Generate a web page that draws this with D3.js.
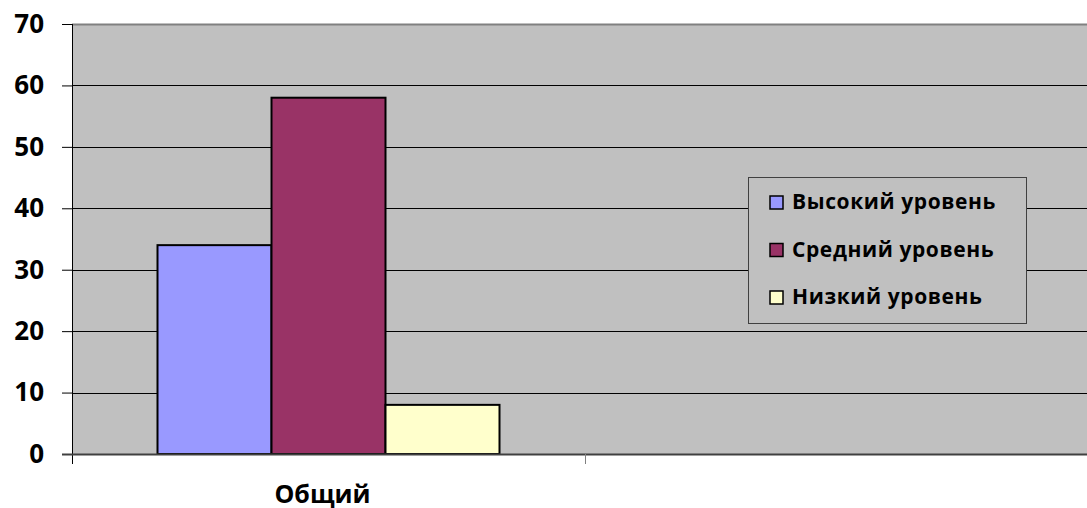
<!DOCTYPE html>
<html>
<head>
<meta charset="utf-8">
<script src="https://cdn.jsdelivr.net/npm/d3@7"></script>
<style>
  body { margin: 0; background: #fff; }
  svg { display: block; font-family: "Open Sans", "Noto Sans", sans-serif; }
</style>
</head>
<body>
<div id="plot"></div>
<script>
// chart data
const categories = ["Общий", ""];
const seriesNames = ["Высокий уровень", "Средний уровень", "Низкий уровень"];
const seriesValues = [[34, null], [58, null], [8, null]];
const seriesColors = ["#9999ff", "#993366", "#ffffcc"];
const yTicks = [0, 10, 20, 30, 40, 50, 60, 70];

const w = 1087;
const h = 508;
const margin = {top: 24, right: -11, bottom: 54, left: 72};
const innerWidth = w - margin.left - margin.right;
const innerHeight = h - margin.top - margin.bottom;

const svg = d3.select("div#plot")
    .append("svg")
    .attr("width", w)
    .attr("height", h);

const x0 = d3.scaleBand()
    .domain(categories)
    .range([0, innerWidth]);

// gap width 150% like excel
const barW = x0.bandwidth() / (seriesNames.length + 1.5);
const x1 = d3.scaleBand()
    .domain(seriesNames)
    .range([barW * 0.75, barW * 0.75 + barW * seriesNames.length]);

const y = d3.scaleLinear()
    .domain([0, 70])
    .range([innerHeight, 0]);

const g = svg.append("g")
    .attr("transform", `translate(${margin.left},${margin.top})`);

g.append("rect")
    .attr("width", innerWidth)
    .attr("height", innerHeight)
    .attr("fill", "#c0c0c0");

// gridlines
g.selectAll(".grid")
    .data(yTicks.filter(d => d > 0 && d < 70))
  .enter().append("line")
    .attr("x1", 0)
    .attr("x2", innerWidth)
    .attr("y1", d => Math.round(y(d)) + 0.5)
    .attr("y2", d => Math.round(y(d)) + 0.5)
    .attr("stroke", "#000")
    .attr("stroke-width", 1);

g.append("line")
    .attr("x1", 0).attr("x2", innerWidth)
    .attr("y1", 0.5).attr("y2", 0.5)
    .attr("stroke", "#808080").attr("stroke-width", 2);

// bars
const bars = [];
seriesNames.forEach((s, i) => {
  categories.forEach((c, j) => {
    if (seriesValues[i][j] != null) bars.push({s, c, v: seriesValues[i][j], color: seriesColors[i]});
  });
});

g.selectAll(".bar")
    .data(bars)
  .enter().append("rect")
    .attr("x", d => x0(d.c) + x1(d.s))
    .attr("y", d => y(d.v))
    .attr("width", x1.bandwidth())
    .attr("height", d => innerHeight - y(d.v))
    .attr("fill", d => d.color)
    .attr("stroke", "#000")
    .attr("stroke-width", 2);

// axes
const yAxis = d3.axisLeft(y)
    .tickValues(yTicks)
    .tickSize(10)
    .tickPadding(18)
    .tickFormat(d3.format("d"));

const ya = g.append("g").call(yAxis);
ya.select(".domain").remove();
ya.selectAll("line").attr("stroke", "#000");
ya.selectAll("text")
    .attr("font-size", 26)
    .attr("font-weight", "bold")
    .attr("fill", "#000")
    .attr("font-family", "'Open Sans', sans-serif");

g.append("line")
    .attr("x1", 0.5).attr("x2", 0.5)
    .attr("y1", 0).attr("y2", innerHeight + 10)
    .attr("stroke", "#000");

g.append("line")
    .attr("x1", -10).attr("x2", innerWidth)
    .attr("y1", innerHeight + 0.5).attr("y2", innerHeight + 0.5)
    .attr("stroke", "#404040").attr("stroke-width", 2);

g.selectAll(".xtick")
    .data(categories.slice(1))
  .enter().append("line")
    .attr("x1", d => x0(d) + 0.5)
    .attr("x2", d => x0(d) + 0.5)
    .attr("y1", innerHeight)
    .attr("y2", innerHeight + 10)
    .attr("stroke", "#808080");

g.selectAll(".xlabel")
    .data(categories.filter(d => d !== ""))
  .enter().append("text")
    .attr("x", d => x0(d) + x0.bandwidth() / 2 - 6)
    .attr("y", innerHeight + 49)
    .attr("text-anchor", "middle")
    .attr("font-size", 25)
    .attr("font-weight", "bold")
    .text(d => d);

// legend
const legend = svg.append("g")
    .attr("transform", "translate(748,177)");

legend.append("rect")
    .attr("x", 0.5).attr("y", 0.5)
    .attr("width", 278).attr("height", 146)
    .attr("fill", "#c0c0c0")
    .attr("stroke", "#404040");

const items = legend.selectAll(".item")
    .data(seriesNames)
  .enter().append("g")
    .attr("transform", (d, i) => `translate(0,${25 + i * 47.5})`);

items.append("rect")
    .attr("x", 22).attr("y", -6)
    .attr("width", 13).attr("height", 13)
    .attr("fill", (d, i) => seriesColors[i])
    .attr("stroke", "#000")
    .attr("stroke-width", 1.5);

items.append("text")
    .attr("x", 44)
    .attr("y", 0)
    .attr("dy", "0.35em")
    .attr("font-size", 21)
    .attr("font-weight", "bold")
    .attr("letter-spacing", 0.6)
    .text(d => d);
</script>
</body>
</html>
